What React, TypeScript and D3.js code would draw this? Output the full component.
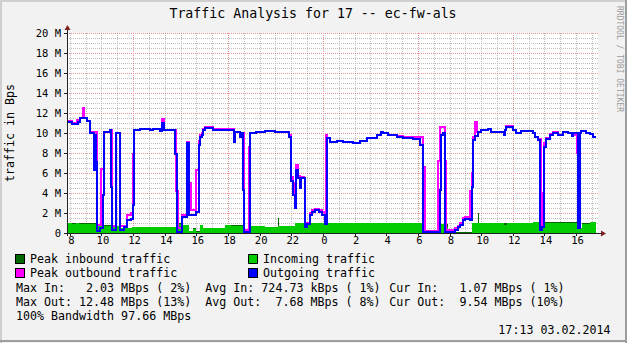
import React, { useEffect } from 'react';
import * as d3 from 'd3';

// ---------- data ----------
const title = 'Traffic Analysis for 17 -- ec-fw-als';
const yAxisLabel = 'traffic in Bps';
const watermark = 'RRDTOOL / TOBI OETIKER';
const timeStart = 7.823; // hours since midnight of the first day
const timeEnd = 41.323;
const yMaxM = 20; // MBps
const yTickValues = [0, 2, 4, 6, 8, 10, 12, 14, 16, 18, 20];
const xLabelHours = [8, 10, 12, 14, 16, 18, 20, 22, 24, 26, 28, 30, 32, 34, 36, 38, 40];

// [hour, MBps]
const outgoing: [number, number][] = [
  [7.82, 11.1], [8.14, 10.9], [8.52, 11.1], [8.64, 11.5], [9.09, 11.2], [9.28, 10.0], [9.53, 6.3], [9.59, 9.8],
  [9.66, 7.1], [9.72, 0.2], [9.91, 0.5], [10.10, 3.8], [10.16, 10.1], [10.54, 10.3], [10.60, 4.6], [10.67, 0.3],
  [10.89, 6.5], [10.95, 10.0], [11.20, 0.3], [11.43, 0.6], [11.62, 1.3], [11.87, 1.4], [11.99, 2.8], [12.06, 10.3],
  [12.44, 10.4], [13.07, 10.3], [13.26, 10.4], [13.70, 10.2], [13.83, 11.0], [13.95, 10.3], [14.65, 7.9], [14.78, 0.1],
  [15.09, 1.6], [15.41, 9.0], [15.53, 1.8], [15.98, 2.1], [16.17, 8.8], [16.23, 9.6], [16.36, 9.8], [16.42, 10.3],
  [16.55, 10.5], [17.05, 10.3], [18.38, 9.1], [18.44, 10.1], [18.76, 9.6], [18.82, 10.0], [18.95, 4.3], [19.01, 0.1],
  [19.36, 8.6], [19.42, 10.0], [19.77, 10.1], [20.34, 10.2], [20.97, 10.1], [21.86, 9.6], [21.98, 5.2], [22.11, 3.8],
  [22.24, 2.5], [22.30, 6.3], [22.42, 5.5], [22.55, 4.5], [22.61, 5.5], [22.84, 0.6], [22.99, 0.9], [23.18, 1.8],
  [23.31, 2.1], [23.50, 2.3], [23.75, 2.1], [23.94, 1.8], [24.10, 0.9], [24.23, 9.3], [24.26, 9.5], [24.42, 9.1],
  [24.89, 9.2], [25.27, 9.1], [25.90, 9.0], [26.34, 9.2], [26.79, 9.5], [27.42, 9.8], [27.67, 10.1], [27.80, 10.0],
  [28.11, 9.8], [28.68, 9.6], [29.06, 9.5], [29.69, 9.4], [30.14, 8.8], [30.33, 0.1], [31.40, 4.3], [31.46, 9.8],
  [31.59, 10.0], [31.72, 0.1], [32.35, 0.3], [32.54, 0.6], [32.67, 0.8], [32.85, 1.3], [32.98, 1.4], [33.30, 1.3],
  [33.42, 4.6], [33.49, 9.3], [33.61, 9.7], [33.80, 10.1], [33.99, 10.3], [34.43, 10.4], [34.62, 10.1], [35.45, 9.8],
  [35.51, 10.3], [35.57, 10.6], [36.02, 10.3], [36.20, 10.0], [36.52, 10.2], [37.28, 10.0], [37.41, 9.6], [37.60, 9.3],
  [37.72, 0.3], [37.85, 0.6], [37.97, 8.6], [38.07, 9.4], [38.35, 9.8], [38.54, 10.0], [38.86, 9.8], [39.17, 10.1],
  [39.49, 10.0], [39.74, 9.7], [39.81, 10.0], [40.12, 0.5], [40.25, 10.0], [40.31, 10.2], [40.63, 10.0], [40.88, 9.9],
  [41.07, 9.6], [41.23, 9.6],
];

const peakOutbound: [number, number][] = [
  [7.82, 11.2], [8.14, 11.0], [8.45, 11.3], [8.64, 11.5], [8.83, 12.48], [8.90, 11.5], [9.09, 11.2], [9.28, 10.1],
  [9.72, 0.8], [9.97, 6.4], [10.16, 10.1], [10.54, 10.3], [10.67, 0.7], [10.89, 6.5], [10.95, 10.0], [11.20, 0.7],
  [11.62, 1.8], [11.87, 2.0], [11.99, 7.9], [12.06, 10.3], [12.44, 10.4], [13.07, 10.3], [13.26, 10.4], [13.70, 10.2],
  [13.83, 11.4], [13.95, 10.3], [14.65, 10.3], [14.72, 4.2], [14.84, 0.5], [15.09, 1.8], [15.41, 9.1], [15.53, 5.0],
  [15.66, 2.3], [15.98, 6.3], [16.17, 9.2], [16.23, 9.8], [16.36, 10.0], [16.42, 10.4], [16.55, 10.6], [17.05, 10.4],
  [18.38, 9.6], [18.44, 10.1], [18.76, 10.0], [18.95, 10.0], [19.01, 0.3], [19.30, 8.6], [19.42, 10.0], [19.77, 10.1],
  [20.34, 10.2], [20.97, 10.1], [21.86, 9.8], [21.98, 5.6], [22.11, 5.0], [22.24, 3.0], [22.30, 6.8], [22.42, 5.7],
  [22.55, 5.6], [22.78, 5.5], [22.84, 0.9], [22.99, 1.0], [23.18, 2.0], [23.31, 2.3], [23.50, 2.4], [23.75, 2.3],
  [23.94, 2.1], [24.10, 1.0], [24.17, 9.8], [24.26, 9.5], [24.42, 9.1], [24.89, 9.2], [25.27, 9.1], [25.90, 9.0],
  [26.34, 9.2], [26.79, 9.5], [27.42, 9.8], [27.67, 10.1], [27.80, 10.0], [28.11, 9.8], [28.68, 9.7], [29.06, 9.6],
  [29.69, 9.6], [30.14, 9.6], [30.33, 6.6], [30.46, 0.2], [31.27, 7.2], [31.40, 10.6], [31.59, 10.6], [31.72, 7.2],
  [31.78, 0.3], [32.35, 0.5], [32.54, 0.7], [32.67, 1.0], [32.85, 1.5], [32.98, 1.6], [33.30, 4.2], [33.42, 6.0],
  [33.49, 9.6], [33.61, 11.1], [33.74, 10.1], [33.99, 10.3], [34.43, 10.4], [34.62, 10.1], [35.45, 10.0], [35.51, 10.3],
  [35.57, 10.7], [36.02, 10.3], [36.20, 10.0], [36.52, 10.2], [37.28, 10.0], [37.41, 9.6], [37.60, 9.4], [37.78, 0.5],
  [37.85, 4.0], [37.97, 9.0], [38.07, 9.5], [38.35, 9.9], [38.54, 10.1], [38.86, 9.8], [39.17, 10.1], [39.49, 10.0],
  [39.74, 9.8], [40.06, 8.0], [40.19, 10.0], [40.31, 10.2], [40.63, 10.0], [40.88, 9.9], [41.07, 9.6], [41.23, 9.6],
];

const incoming: [number, number][] = [
  [7.82, 0.97], [8.14, 0.92], [8.39, 0.97], [8.58, 0.88], [8.83, 0.95], [9.15, 0.9], [9.41, 0.95], [9.72, 0.75],
  [10.10, 0.72], [10.67, 0.68], [11.20, 0.5], [11.93, 0.58], [14.78, 0.95], [15.09, 0.8], [15.53, 0.2], [15.80, 0.45],
  [15.95, 0.15], [16.23, 0.8], [16.42, 0.5], [17.40, 0.55], [17.82, 0.8], [18.20, 0.75], [18.95, 0.15], [19.36, 0.7],
  [20.34, 0.6], [21.16, 0.7], [22.22, 0.97], [30.39, 0.05], [31.44, 0.9], [31.65, 0.6], [31.90, 0.05], [33.42, 0.97],
  [35.45, 0.85], [35.64, 0.97], [37.28, 1.1], [37.72, 0.85], [37.97, 1.05], [40.12, 0.5], [40.37, 0.95], [40.88, 1.07],
  [41.23, 1.07],
];

const peakInbound: [number, number][] = [
  [7.82, 0.99], [9.72, 0.78], [10.67, 0.7], [11.20, 0.52], [11.93, 0.6], [14.78, 0.97], [15.09, 0.82], [15.53, 0.22],
  [15.80, 0.47], [15.95, 0.17], [16.23, 0.82], [16.42, 0.52], [17.82, 0.82], [18.95, 0.17], [19.36, 0.72], [20.34, 0.62],
  [21.16, 1.5], [21.22, 0.72], [22.22, 0.99], [30.39, 0.07], [31.44, 0.92], [31.90, 0.07], [33.42, 0.99], [33.80, 2.03],
  [33.87, 0.99], [37.28, 1.12], [37.72, 0.87], [37.97, 1.07], [40.12, 0.52], [40.37, 0.97], [40.88, 1.09], [41.23, 1.09],
];

const legendLabels = ['Peak inbound traffic', 'Incoming traffic', 'Peak outbound traffic', 'Outgoing traffic'];
const legendColors = ['#006600', '#00cc00', '#ff00ff', '#0000ff'];
const statRows: string[][] = [
  ['Max In:   2.03 MBps ( 2%)', 'Avg In: 724.73 kBps ( 1%)', 'Cur In:   1.07 MBps ( 1%)'],
  ['Max Out: 12.48 MBps (13%)', 'Avg Out:  7.68 MBps ( 8%)', 'Cur Out:  9.54 MBps (10%)'],
];
const bandwidthLine = '100% Bandwidth 97.66 MBps';
const timestamp = '17:13 03.02.2014';

// ---------- layout ----------
const W = 627;
const H = 343;
const PL = 67, PR = 597, PT = 33, PB = 233;
const FONT = "'DejaVu Sans Mono', monospace";

export default function App() {
  useEffect(() => {
    document.body.style.margin = '0';
  }, []);

  const x = d3.scaleLinear().domain([timeStart, timeEnd]).range([PL, PR]);
  const y = d3.scaleLinear().domain([0, yMaxM]).range([PB, PT]);

  const line = d3.line<[number, number]>()
    .x(d => Math.round(x(d[0])))
    .y(d => Math.round(y(d[1])))
    .curve(d3.curveStepAfter);
  const area = d3.area<[number, number]>()
    .x(d => Math.round(x(d[0])))
    .y0(y(0))
    .y1(d => Math.round(y(d[1])))
    .curve(d3.curveStepAfter);

  const minorY = d3.range(0, yMaxM + 0.001, 0.5).filter(v => Math.abs(v / 2 - Math.round(v / 2)) > 1e-6);
  const hours = d3.range(Math.ceil(timeStart), Math.floor(timeEnd) + 1);
  const minorX = hours.filter(h => h % 6 !== 0);
  const majorX = hours.filter(h => h % 6 === 0);

  const px = (v: number) => Math.round(v) + 0.5;
  const pre = { whiteSpace: 'pre' as const };

  return (
    <svg width={W} height={H} style={{ position: 'absolute', left: 0, top: 0, display: 'block' }}
      xmlns="http://www.w3.org/2000/svg">
      <rect x={0} y={0} width={W} height={H} fill="#f2f2f2" />
      {/* frame shading */}
      <rect x={0} y={0} width={W} height={2} fill="#cfcfcf" />
      <rect x={0} y={0} width={2} height={H} fill="#cfcfcf" />
      <rect x={W - 2} y={0} width={2} height={H} fill="#9e9e9e" />
      <rect x={0} y={H - 3} width={W} height={2} fill="#9e9e9e" />

      {/* canvas */}
      <rect x={PL} y={PT} width={PR - PL + 1} height={PB - PT} fill="#ffffff" />

      {/* minor grid */}
      <g stroke="#a8a8a8" strokeWidth={1} strokeDasharray="1 1" opacity={0.75} shapeRendering="crispEdges">
        {minorY.map(v => (
          <line key={'my' + v} x1={PL} x2={PR + 1} y1={px(y(v))} y2={px(y(v))} />
        ))}
        {minorX.map(h => (
          <line key={'mx' + h} x1={px(x(h))} x2={px(x(h))} y1={PT} y2={PB} />
        ))}
      </g>
      {/* major grid */}
      <g stroke="#de5050" strokeWidth={1} strokeDasharray="1 1" opacity={0.6} shapeRendering="crispEdges">
        {yTickValues.filter(v => v > 0).map(v => (
          <line key={'My' + v} x1={PL} x2={PR + 1} y1={px(y(v))} y2={px(y(v))} />
        ))}
        {majorX.map(h => (
          <line key={'Mx' + h} x1={px(x(h))} x2={px(x(h))} y1={PT} y2={PB} />
        ))}
      </g>

      {/* data */}
      <path d={area(peakInbound) || ''} fill={legendColors[0]} shapeRendering="crispEdges" />
      <path d={area(incoming) || ''} fill={legendColors[1]} shapeRendering="crispEdges" />
      <path d={line(peakOutbound) || ''} fill="none" stroke={legendColors[2]} strokeWidth={2} shapeRendering="crispEdges" />
      <path d={line(outgoing) || ''} fill="none" stroke={legendColors[3]} strokeWidth={2} shapeRendering="crispEdges" />

      {/* axes */}
      <g stroke="#212121" strokeWidth={1} shapeRendering="crispEdges">
        <line x1={PL - 3} x2={PR + 4} y1={PB + 0.5} y2={PB + 0.5} />
        <line x1={PL + 0.5} x2={PL + 0.5} y1={PB + 3} y2={PT - 4} />
        {xLabelHours.map(h => (
          <line key={'tx' + h} x1={px(x(h))} x2={px(x(h))} y1={PB} y2={PB + 3} />
        ))}
        {yTickValues.map(v => (
          <line key={'ty' + v} x1={PL - 3} x2={PL} y1={px(y(v))} y2={px(y(v))} />
        ))}
      </g>
      <polygon points={`${PL + 0.5},${PT - 8} ${PL - 2.5},${PT - 3} ${PL + 3.5},${PT - 3}`} fill="#7f1f1f" />
      <polygon points={`${PR + 9},${PB + 0.5} ${PR + 4},${PB - 2.5} ${PR + 4},${PB + 3.5}`} fill="#7f1f1f" />

      {/* axis labels */}
      <g fontFamily={FONT} fontSize={10.5} fill="#000">
        {yTickValues.map(v => (
          <text key={'ly' + v} x={61} y={y(v) + 3.8} textAnchor="end" xmlSpace="preserve" style={pre}>
            {v === 0 ? '0' : `${v} M`}
          </text>
        ))}
        {xLabelHours.map(h => (
          <text key={'lx' + h} x={x(h) + 1.5} y={244} textAnchor="middle">
            {String(h % 24)}
          </text>
        ))}
      </g>

      {/* title */}
      <text x={313} y={18} textAnchor="middle" fontFamily={FONT} fontSize={13.25} fill="#000"
        xmlSpace="preserve" style={pre}>{title}</text>

      {/* vertical label */}
      <text transform="translate(14,133) rotate(-90)" textAnchor="middle" fontFamily={FONT} fontSize={11.65}
        fill="#000">{yAxisLabel}</text>

      {/* watermark */}
      <text transform="translate(617,6) rotate(90)" fontFamily={FONT} fontSize={9} fill="#9a9a9a"
        textLength={106} lengthAdjust="spacingAndGlyphs" xmlSpace="preserve" style={pre}>{watermark}</text>

      {/* legend */}
      <g fontFamily={FONT} fontSize={11.65} fill="#000">
        {legendLabels.map((lab, i) => {
          const col = i % 2;
          const row = Math.floor(i / 2);
          const bx = col === 0 ? 15.5 : 248.5;
          const by = 254.5 + row * 14;
          return (
            <g key={lab}>
              <rect x={bx} y={by} width={9} height={9} fill={legendColors[i]} stroke="#000" strokeWidth={1} />
              <text x={bx + 14.5} y={by + 8.5} xmlSpace="preserve" style={pre}>{lab}</text>
            </g>
          );
        })}
        {statRows.map((row, r) =>
          row.map((s, c) => (
            <text key={`s${r}${c}`} x={[16, 205.3, 389.3][c]} y={291.5 + r * 14}
              xmlSpace="preserve" style={pre}>{s}</text>
          ))
        )}
        <text x={16} y={319.5} xmlSpace="preserve" style={pre}>{bandwidthLine}</text>
        <text x={610.5} y={333.5} textAnchor="end" xmlSpace="preserve" style={pre}>{timestamp}</text>
      </g>
    </svg>
  );
}
